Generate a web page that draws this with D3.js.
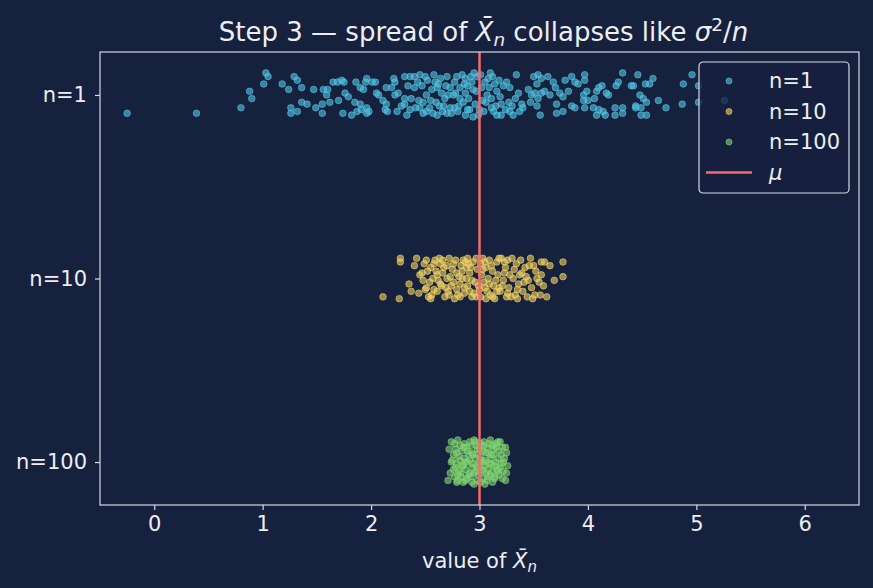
<!DOCTYPE html>
<html>
<head>
<meta charset="utf-8">
<script src="https://cdn.jsdelivr.net/npm/d3@7"></script>
<style>
  html, body { margin: 0; padding: 0; background: #16213e; }
  svg { display: block; font-family: "DejaVu Sans", sans-serif; }
</style>
</head>
<body>
<div id="container"></div>
<script>
const canvasWidth = 873;
const canvasHeight = 588;

// plot frame (pixels)
const plotLeft = 100, plotRight = 859, plotTop = 52, plotBottom = 505;

const bg = '#16213e';
const fg = '#eceef4';
const frameColor = '#d5d9e2';

const groups = ['n=1', 'n=10', 'n=100'];
const groupColors = ['#52c4e2', '#f3d262', '#80d672'];
const mu = 3;
const xTicks = [0, 1, 2, 3, 4, 5, 6];

// [value of the mean, vertical jitter]
const pointsN1 = [
  [-0.25,0.10],[0.39,0.10],[0.80,0.07],[0.90,0.02],[0.88,-0.02],[1.01,-0.06],[1.03,-0.12],[1.05,-0.10],
  [1.18,-0.06],[1.24,-0.03],[1.29,-0.10],[1.32,-0.08],[1.36,-0.04],[1.26,0.07],[1.26,0.10],[1.32,0.09],
  [1.36,0.04],[1.41,0.05],[1.47,-0.03],[1.49,0.07],[1.55,0.05],[1.55,0.10],[1.56,-0.03],[1.60,-0.03],
  [1.59,0.00],[1.62,0.04],[1.65,-0.07],[1.69,-0.07],[1.73,-0.08],[1.75,-0.07],[1.70,0.03],[1.76,-0.01],
  [1.79,0.01],[1.74,0.10],[1.82,0.11],[1.86,-0.07],[1.90,-0.04],[1.93,-0.03],[1.85,0.04],[1.90,0.05],
  [1.87,0.09],[1.91,0.08],[1.96,-0.09],[2.01,-0.07],[2.04,-0.07],[1.95,-0.07],[1.96,0.07],[1.98,0.09],
  [1.96,0.10],[2.07,0.00],[2.05,-0.01],[2.11,0.03],[2.14,0.05],[2.13,0.08],[2.15,0.09],[2.21,-0.09],
  [2.22,-0.07],[2.14,-0.04],[2.19,-0.04],[2.22,0.00],[2.24,0.09],
  [2.31,-0.10],[2.36,-0.10],[2.40,-0.10],[2.45,-0.11],[2.50,-0.10],[2.52,-0.08],[2.34,-0.05],[2.40,-0.04],
  [2.47,-0.05],[2.31,0.02],[2.31,0.05],[2.25,-0.01],[2.37,0.02],[2.44,0.03],[2.48,0.04],[2.51,0.00],
  [2.41,0.07],[2.45,0.07],[2.51,0.09],[2.54,0.07],[2.33,0.11],[2.61,0.11],[2.70,0.10],[2.56,-0.03],
  [2.61,-0.04],[2.64,-0.09],[2.65,-0.01],[2.68,0.02],[2.71,0.00],[2.67,0.06],[2.73,0.07],[2.77,0.07],
  [2.77,-0.07],[2.82,-0.04],[2.84,-0.11],[2.87,-0.09],[2.76,0.00],[2.82,0.02],[2.87,-0.01],[2.90,0.02],
  [2.80,0.09],[2.87,0.11],[2.91,0.08],[2.94,0.12],[2.93,-0.07],[2.94,-0.03],[3.05,-0.07],[3.10,-0.12],
  [3.07,0.00],[3.11,0.02],[3.16,-0.02],[3.19,0.01],[3.20,0.05],[3.11,0.07],[3.16,0.11],[3.20,0.11],
  [2.58,-0.11],[2.62,-0.06],[2.70,-0.10],[2.73,-0.04],[2.79,-0.10],[2.85,0.04],[2.96,0.05],[2.98,-0.10],
  [3.00,0.08],[3.02,-0.04],[2.95,-0.12],[2.60,0.04],[2.66,0.09],[2.57,0.10],[2.89,-0.05],[3.03,0.03],
  [3.08,-0.09],[3.13,0.09],[3.14,-0.06],
  [2.55,0.03],[2.59,-0.07],[2.63,0.06],[2.69,-0.05],[2.74,0.10],[2.78,-0.01],[2.81,0.06],[2.86,-0.06],
  [2.89,0.08],[2.92,-0.10],[2.97,-0.02],[2.99,0.11],[3.01,-0.11],[3.04,0.09],[3.06,0.04],[3.09,-0.04],
  [3.12,-0.10],[3.15,0.06],[3.18,-0.08],[3.22,-0.05],[3.24,0.08],[2.43,-0.07],[2.48,0.10],[2.36,0.08],
  [2.28,0.06],
  [3.34,-0.11],[3.28,-0.04],[3.25,-0.07],[3.36,-0.01],[3.33,0.02],[3.27,0.04],[3.30,0.06],[3.28,0.09],
  [3.31,0.11],[3.39,0.05],[3.40,0.07],[3.37,0.09],[3.50,-0.10],[3.54,-0.11],[3.57,-0.09],[3.53,-0.06],
  [3.63,-0.10],[3.68,-0.07],[3.70,-0.04],[3.45,-0.03],[3.48,0.00],[3.51,-0.01],[3.54,0.02],[3.57,-0.01],
  [3.47,0.04],[3.53,0.06],[3.60,-0.02],[3.65,0.00],[3.56,0.11],[3.71,0.10],[3.77,0.09],[3.71,0.05],
  [3.74,-0.01],[3.77,0.01],[3.82,-0.02],[3.79,-0.08],[3.85,-0.10],[3.88,-0.07],[3.91,-0.06],[3.97,-0.11],
  [3.97,-0.08],[3.85,0.06],[3.88,0.07],[3.96,0.00],[3.99,-0.02],[3.97,0.07],[3.96,0.03],[4.00,0.03],
  [4.06,0.02],[4.05,0.07],[4.10,-0.04],[4.08,-0.02],[4.13,-0.05],[4.19,0.00],[4.17,-0.01],[4.10,0.08],
  [4.14,0.09],[4.08,0.11],[4.16,0.11],[4.25,0.07],[4.32,0.07],[4.44,0.07],[4.49,0.07],[4.26,-0.05],
  [4.28,-0.07],[4.32,-0.12],[4.40,-0.05],[4.46,-0.11],[4.25,0.11],[4.32,0.10],[4.49,0.11],[4.48,0.00],
  [4.60,-0.09],[4.57,-0.06],[4.53,-0.06],[4.96,-0.11],[4.88,-0.06],[4.65,0.03],[4.72,0.07],[4.87,0.05],
  [4.54,0.04],[4.54,0.11],[5.02,-0.05],[5.02,0.04],[5.26,0.03],[4.42,-0.05],[4.51,0.02],[4.44,0.06]
];

const pointsN10 = [
  [2.11,0.10],[2.26,0.11],[2.27,-0.11],[2.27,-0.09],[2.42,-0.11],[2.37,0.07],[2.51,-0.10],[2.59,-0.10],
  [2.64,-0.08],[2.47,-0.03],[2.48,0.01],[2.54,0.02],[2.51,0.05],[2.56,0.09],[2.53,0.10],[2.61,-0.02],
  [2.67,-0.06],[2.70,0.00],[2.65,0.04],[2.71,0.07],[2.68,0.10],[2.76,-0.08],[2.79,-0.03],[2.82,0.03],
  [2.80,0.09],[2.85,-0.10],[2.88,-0.06],[2.88,0.00],[2.91,0.07],[2.93,0.10],[2.94,-0.09],[2.91,-0.03],
  [3.03,-0.11],[3.06,-0.06],[3.08,0.00],[3.05,0.05],[3.10,0.09],[3.06,0.11],[3.16,-0.09],[3.20,-0.11],
  [3.17,-0.02],[3.22,0.01],[3.19,0.07],[3.25,0.10],[3.30,-0.11],[3.34,-0.08],[3.31,0.00],[3.36,0.03],
  [3.33,0.09],[3.39,-0.03],[3.40,0.07],[3.47,-0.11],[3.50,-0.07],[3.45,0.01],[3.48,0.05],[3.51,0.09],
  [3.53,0.00],[3.57,-0.09],[3.60,-0.09],[3.65,-0.07],[3.57,-0.02],[3.59,0.04],[3.56,0.09],[3.62,0.10],
  [3.69,0.01],[3.77,-0.09],[3.77,-0.01],
  [2.55,-0.06],[2.58,0.06],[2.62,0.01],[2.66,-0.10],[2.73,-0.01],[2.74,0.04],[2.77,0.11],[2.83,-0.07],
  [2.86,0.05],[2.89,-0.11],[2.96,0.02],[2.98,-0.05],[3.00,0.06],[3.01,-0.08],[3.12,-0.04],[3.13,0.04],
  [3.14,0.11],[3.24,-0.06],[3.27,0.05],[3.28,-0.02],[3.42,-0.06],[3.44,0.10],[2.49,-0.08],[2.60,-0.04],
  [2.72,-0.11],[2.84,0.00],[2.97,0.10],[3.04,0.02],[3.18,0.05],[3.23,-0.09],[3.35,0.11],[3.38,-0.10],
  [2.44,0.08],[2.57,0.00],[2.79,0.06],[2.90,-0.08],[3.02,-0.02],[3.09,-0.10],[3.26,0.08],[3.43,-0.01],
  [2.45,-0.02],[2.50,0.06],[2.52,-0.04],[2.55,0.11],[2.58,-0.08],[2.61,0.07],[2.63,-0.11],[2.64,0.03],
  [2.66,-0.03],[2.69,0.05],[2.70,-0.07],[2.72,0.09],[2.75,-0.05],[2.76,0.02],[2.78,-0.10],[2.81,-0.01],
  [2.82,0.10],[2.84,-0.04],[2.86,0.08],[2.87,-0.09],[2.89,0.04],[2.92,-0.06],[2.93,0.01],[2.95,0.08],
  [2.97,-0.11],[2.99,0.04],[3.01,0.10],[3.03,-0.05],[3.05,-0.09],[3.07,0.07],[3.09,0.03],[3.11,-0.07],
  [3.12,0.10],[3.15,0.01],[3.16,0.07],[3.18,-0.11],[3.21,0.04],[3.23,-0.03],[3.26,-0.10],[3.29,0.10],
  [3.32,-0.05],[3.35,0.06],[3.37,-0.02],[3.41,0.02],[3.46,-0.07],[3.49,0.11],[3.52,-0.04],[3.55,0.02],
  [2.40,-0.07],[2.35,0.03]
];

const pointsN100 = [
  [2.74,-0.11],[2.76,-0.04],[2.74,0.00],[2.76,0.04],[2.71,0.10],[2.79,0.11],[3.19,-0.11],[3.25,-0.05],
  [3.22,0.00],[3.25,0.06],[3.24,0.10],[3.14,0.09],
  [2.80,-0.12],[2.86,-0.10],[2.91,-0.11],[2.95,-0.12],[3.01,-0.10],[3.04,-0.11],[3.10,-0.12],[3.15,-0.10],
  [2.78,-0.07],[2.84,-0.06],[2.88,-0.08],[2.93,-0.05],[2.98,-0.07],[3.03,-0.06],[3.07,-0.08],[3.13,-0.07],
  [3.18,-0.06],[2.81,-0.03],[2.86,-0.02],[2.90,-0.04],[2.96,-0.02],[3.01,-0.03],[3.06,-0.01],[3.11,-0.04],
  [3.17,-0.02],[2.79,0.01],[2.84,0.02],[2.89,0.00],[2.94,0.01],[2.99,0.03],[3.04,0.00],[3.09,0.01],
  [3.14,0.02],[3.20,0.01],[2.81,0.05],[2.87,0.04],[2.91,0.06],[2.97,0.05],[3.02,0.04],[3.06,0.06],
  [3.12,0.05],[3.16,0.04],[2.83,0.08],[2.88,0.09],[2.92,0.08],[2.98,0.10],[3.03,0.09],[3.08,0.08],
  [3.12,0.11],[2.85,0.11],[2.95,0.12],[3.05,0.12],[2.82,-0.09],[2.97,-0.09],[3.12,-0.09],[2.87,0.00],
  [3.00,0.00],[3.08,-0.05],[2.93,0.03],[3.18,0.07],[2.80,0.07],[3.21,-0.08],
  [2.77,-0.10],[2.79,-0.05],[2.78,0.03],[2.80,0.10],[2.82,-0.01],[2.83,0.06],[2.85,-0.08],[2.85,0.02],
  [2.87,0.10],[2.89,-0.06],[2.90,0.07],[2.91,-0.01],[2.92,-0.09],[2.93,0.11],[2.94,-0.04],[2.95,0.06],
  [2.96,-0.11],[2.97,0.02],[2.98,-0.04],[2.99,0.07],[3.00,-0.07],[3.01,0.11],[3.02,-0.01],[3.03,0.05],
  [3.04,-0.09],[3.05,0.02],[3.06,-0.05],[3.07,0.10],[3.08,0.04],[3.09,-0.10],[3.10,-0.02],[3.10,0.07],
  [3.11,0.01],[3.13,-0.04],[3.14,0.08],[3.15,-0.08],[3.15,0.00],[3.17,0.05],[3.17,-0.11],[3.19,0.03],
  [3.20,-0.04],[3.21,0.09],[3.23,-0.02],[2.72,-0.07],[2.73,0.06],[2.75,-0.01],[2.77,0.08],[3.22,0.05],
  [3.24,-0.08],[3.26,0.02]
];

const allPoints = [pointsN1, pointsN10, pointsN100];

const svg = d3.select('#container')
  .append('svg')
  .attr('width', canvasWidth)
  .attr('height', canvasHeight)
  .style('background', bg);

let x = d3.scaleLinear().domain([-0.5, 6.5]).range([plotLeft, plotRight]);
let y = d3.scaleLinear().domain([-0.234, 2.234]).range([plotTop, plotBottom]);

// points
allPoints.forEach(function(pts, gi){
  svg.append('g')
    .attr('class', 'grp' + gi)
    .selectAll('circle')
    .data(pts)
    .enter()
    .append('circle')
    .attr('cx', d => x(d[0]))
    .attr('cy', d => y(gi + d[1]))
    .attr('r', 3.3)
    .style('fill', groupColors[gi])
    .style('fill-opacity', 0.6)
    .style('stroke', groupColors[gi])
    .style('stroke-opacity', 0.6)
    .style('stroke-width', 1);
});

// mean line
svg.append('line')
  .attr('x1', x(mu)).attr('x2', x(mu))
  .attr('y1', plotTop).attr('y2', plotBottom)
  .style('stroke', '#f26b70')
  .style('stroke-width', 2.5);

// frame
svg.append('rect')
  .attr('x', plotLeft).attr('y', plotTop)
  .attr('width', plotRight - plotLeft).attr('height', plotBottom - plotTop)
  .style('fill', 'none')
  .style('stroke', frameColor)
  .style('stroke-width', 1.2);

// axes
let xAxis = svg.append('g')
  .attr('transform', 'translate(0,' + plotBottom + ')')
  .call(d3.axisBottom(x).tickValues(xTicks).tickSize(5).tickPadding(6).tickFormat(d3.format('d')));

let yAxis = svg.append('g')
  .attr('transform', 'translate(' + plotLeft + ',0)')
  .call(d3.axisLeft(y).tickValues([0, 1, 2]).tickSize(5).tickPadding(8).tickFormat(i => groups[i]));

[xAxis, yAxis].forEach(function(a){
  a.select('.domain').remove();
  a.selectAll('line').style('stroke', frameColor).style('stroke-width', 1.2);
  a.selectAll('text').style('fill', fg).style('font-size', '21px').style('font-family', '"DejaVu Sans", sans-serif');
});

// title with math
let title = svg.append('text')
  .attr('x', (plotLeft + plotRight) / 2 + 4)
  .attr('y', 41)
  .attr('text-anchor', 'middle')
  .style('fill', fg)
  .style('font-size', '26px');
title.append('tspan').text('Step 3 \u2014 spread of ');
title.append('tspan').style('font-style', 'italic').text('X\u0304');
title.append('tspan').attr('dy', 5).style('font-style', 'italic').style('font-size', '18.5px').text('n');
title.append('tspan').attr('dy', -5).text(' collapses like ');
title.append('tspan').style('font-style', 'italic').text('\u03c3');
title.append('tspan').attr('dy', -10).style('font-size', '18.5px').text('2');
title.append('tspan').attr('dy', 10).text('/');
title.append('tspan').style('font-style', 'italic').text('n');

// x label
let xlab = svg.append('text')
  .attr('x', (plotLeft + plotRight) / 2)
  .attr('y', 568)
  .attr('text-anchor', 'middle')
  .style('fill', fg)
  .style('font-size', '21px');
xlab.append('tspan').text('value of ');
xlab.append('tspan').style('font-style', 'italic').text('X\u0304');
xlab.append('tspan').attr('dy', 4).style('font-style', 'italic').style('font-size', '15px').text('n');

// legend
const legendLabels = ['n=1', 'n=10', 'n=100', '\u03bc'];
let legend = svg.append('g').attr('transform', 'translate(699,62)');
legend.append('rect')
  .attr('width', 150).attr('height', 131)
  .attr('rx', 4)
  .style('fill', bg).style('fill-opacity', 0.8)
  .style('stroke', frameColor).style('stroke-width', 1.2);

let rows = legend.selectAll('.row').data(legendLabels).enter()
  .append('g')
  .attr('class', 'row')
  .attr('transform', (d, i) => 'translate(0,' + (19 + i * 30.5) + ')');

rows.filter((d, i) => i < 3).append('circle')
  .attr('cx', 30).attr('cy', 0).attr('r', 3)
  .style('fill', (d, i) => groupColors[i]).style('fill-opacity', 0.6)
  .style('stroke', (d, i) => groupColors[i]).style('stroke-opacity', 0.6);

rows.filter((d, i) => i === 3).append('line')
  .attr('x1', 7).attr('x2', 53)
  .style('stroke', '#f26b70').style('stroke-width', 2.5);

rows.append('text')
  .attr('x', 70).attr('dy', '0.35em')
  .style('fill', fg)
  .style('font-size', '21px')
  .style('font-style', (d, i) => i === 3 ? 'italic' : 'normal')
  .text(d => d);
</script>
</body>
</html>
